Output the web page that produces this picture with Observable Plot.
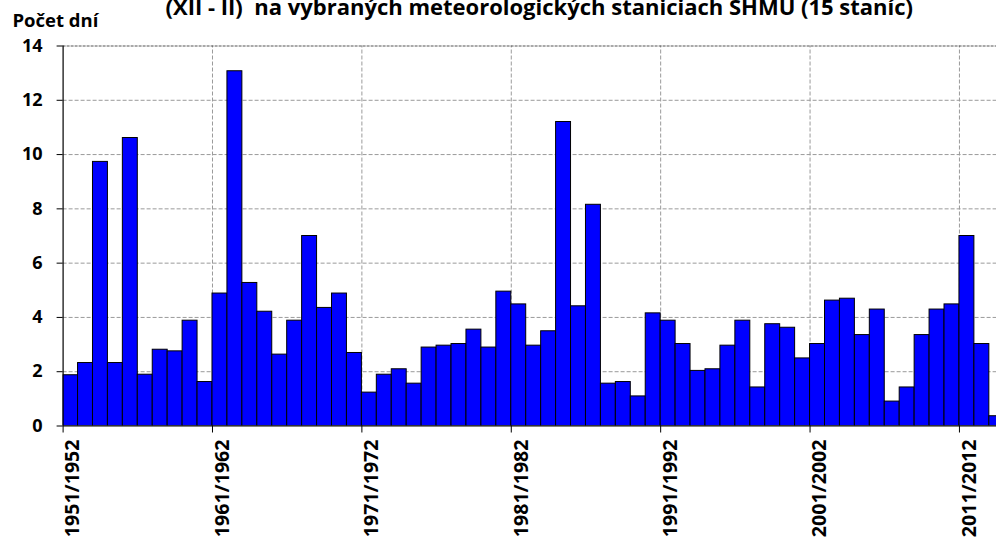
<!DOCTYPE html>
<html>
<head>
<meta charset="utf-8">
<script src="https://cdn.jsdelivr.net/npm/d3@7"></script>
<script src="https://cdn.jsdelivr.net/npm/@observablehq/plot@0.6"></script>
<style>
  html, body { margin: 0; padding: 0; background: #fff; }
  #chart { width: 996px; height: 540px; overflow: hidden; }
</style>
</head>
<body>
<div id="chart"></div>
<script>
// Winter seasons: start year of season (1951 = 1951/1952)
const startYears = d3.range(1951, 2014);
const values = [
  1.87, 2.32, 9.73, 2.32, 10.61, 1.89, 2.81, 2.75, 3.88, 1.62,
  4.88, 13.07, 5.27, 4.21, 2.63, 3.88, 7.0, 4.35, 4.88, 2.69,
  1.23, 1.89, 2.09, 1.56, 2.89, 2.96, 3.02, 3.55, 2.89, 4.95,
  4.48, 2.96, 3.49, 11.2, 4.41, 8.15, 1.56, 1.62, 1.09, 4.15,
  3.88, 3.02, 2.03, 2.09, 2.96, 3.88, 1.42, 3.75, 3.62, 2.49,
  3.02, 4.62, 4.69, 3.35, 4.29, 0.90, 1.42, 3.35, 4.29, 4.48,
  7.0, 3.02, 0.36
];
const tickYears = [1951, 1961, 1971, 1981, 1991, 2001, 2011];
const yTicks = [0, 2, 4, 6, 8, 10, 12, 14];
const gridY = [2, 4, 6, 8, 10, 12];
const titleText = "(XII - II)  na vybraných meteorologických staniciach SHMÚ (15 staníc)";
const yLabel = "Počet dní";

const data = startYears.map((y, i) => ({ year: y, value: values[i] }));
const FONT = "Open Sans";

const chart = Plot.plot({
  width: 996,
  height: 540,
  marginLeft: 62.6,
  marginRight: 0,
  marginTop: 45.5,
  marginBottom: 114.5,
  style: { fontFamily: FONT, background: "#fff", overflow: "visible" },
  x: { type: "linear", domain: [1951, 2013.48] },
  y: { domain: [0, 14] },
  marks: [
    Plot.ruleY(gridY, { stroke: "#9a9a9a", strokeDasharray: "4,2", strokeWidth: 1 }),
    Plot.ruleX(tickYears.slice(1), { y1: 0, y2: 14, stroke: "#9a9a9a", strokeDasharray: "4,2", strokeWidth: 1 }),
    Plot.ruleY([14], { stroke: "#555", strokeDasharray: "3,1", strokeWidth: 1.2 }),
    Plot.rectY(data, {
      x1: "year",
      x2: d => d.year + 1,
      y: "value",
      fill: "#0000ff",
      stroke: "#000",
      strokeWidth: 1,
      clip: true
    }),
    Plot.ruleX([1951], { stroke: "#000", strokeWidth: 1.2 }),
    Plot.ruleY([0], { stroke: "#000", strokeWidth: 1.2 }),
    Plot.axisY({
      ticks: yTicks, tickSize: 6, tickPadding: 14.6, stroke: "#000",
      fontSize: 18, fontWeight: "bold", fill: "#000", label: null
    }),
    Plot.axisX({
      ticks: tickYears, tickSize: 7, stroke: "#000", tickFormat: () => "", label: null
    }),
    Plot.axisX({
      ticks: tickYears, tickSize: 0, tickPadding: 13.5, tickRotate: -90,
      tickFormat: d => `${d}/${d + 1}`, dx: 10,
      fontSize: 19.6, fontWeight: "bold", fill: "#000", label: null
    }),
    Plot.text([yLabel], {
      frameAnchor: "top-left", dx: -50.6, dy: -19, lineAnchor: "bottom", textAnchor: "start",
      fontSize: 18.5, fontWeight: "bold", fill: "#000"
    }),
    Plot.text([titleText], {
      frameAnchor: "top", dx: 9.5, dy: -31.5, lineAnchor: "bottom",
      fontSize: 22, fontWeight: "bold", fill: "#000"
    })
  ]
});
document.getElementById("chart").appendChild(chart);
</script>
</body>
</html>
